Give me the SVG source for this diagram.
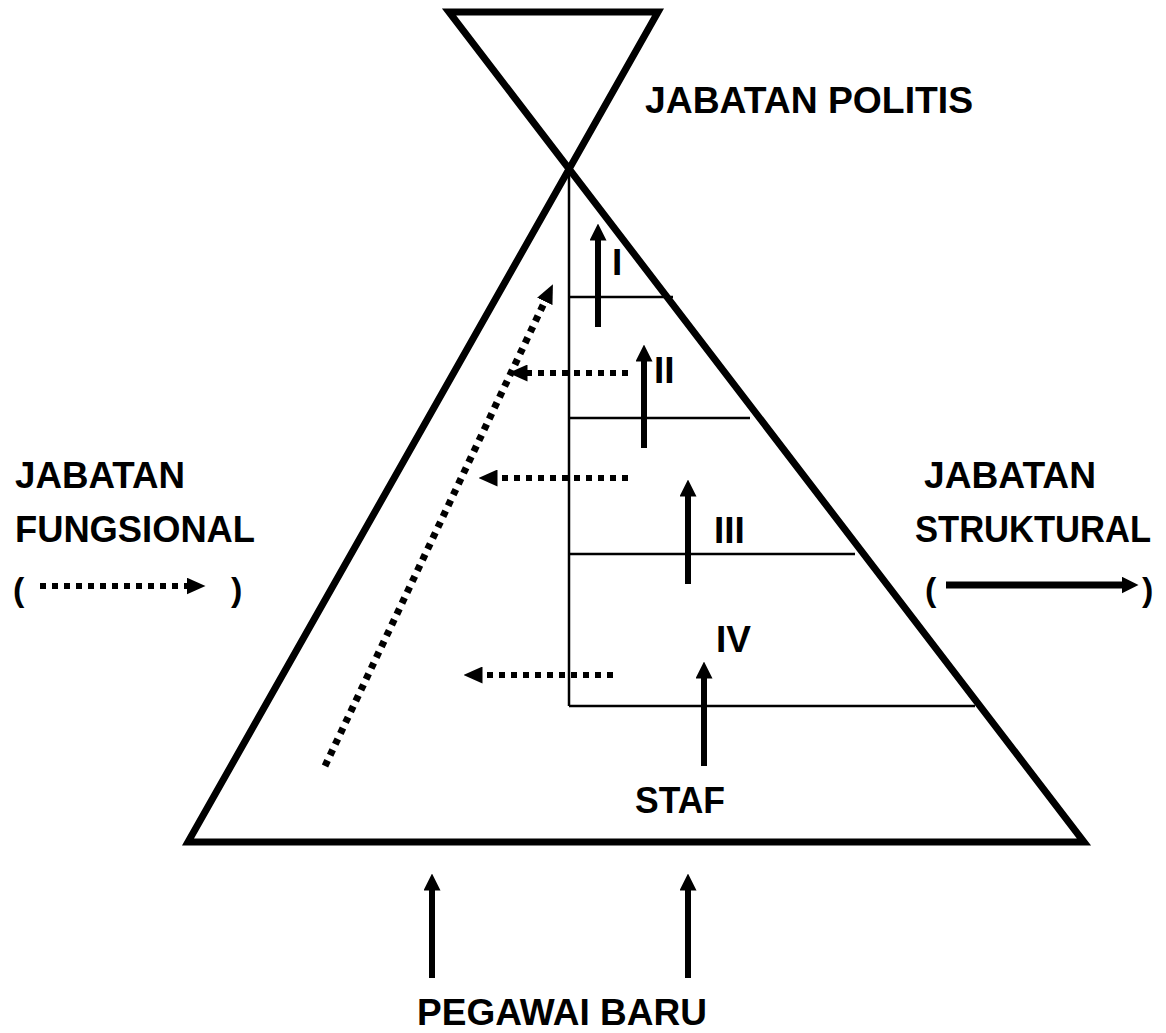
<svg xmlns="http://www.w3.org/2000/svg" width="1166" height="1033" viewBox="0 0 1166 1033">
<style>
text{font-family:"Liberation Sans",Arial,sans-serif;font-weight:bold;font-size:37px;fill:#000}
.paren{font-size:34px}
.thick{fill:none;stroke:#000;stroke-width:7;stroke-linejoin:miter}
.thin{fill:none;stroke:#000;stroke-width:2.5}
.solid{stroke:#000;stroke-width:6;fill:none}
.dot{stroke:#000;stroke-width:6;fill:none;stroke-dasharray:6 6}
.dot7{stroke:#000;stroke-width:7;fill:none;stroke-dasharray:6 6}
</style>
<defs>
<marker id="hs" markerUnits="userSpaceOnUse" viewBox="0 0 17 17" markerWidth="17" markerHeight="17" refX="0.5" refY="8.5" orient="auto"><path d="M0,0 L17,8.5 L0,17 Z" fill="#000"/></marker>
<marker id="hd" markerUnits="userSpaceOnUse" viewBox="0 0 19 17" markerWidth="19" markerHeight="17" refX="0.5" refY="8.5" orient="auto"><path d="M0,0 L19,8.5 L0,17 Z" fill="#000"/></marker>
</defs>
<g id="pyramid">
<path class="thick" d="M449,12 L658,12 L188,842 L1084,842 Z"/>
</g>
<g id="levels">
<path class="thin" d="M569,170 V706 M569,297 H673 M569,418 H750 M569,554 H855 M569,706 H975"/>
</g>
<g id="connectors">
<line class="solid" x1="598" y1="327" x2="598" y2="240" marker-end="url(#hs)"/>
<line class="solid" x1="644" y1="448" x2="644" y2="361" marker-end="url(#hs)"/>
<line class="solid" x1="688" y1="584" x2="688" y2="496" marker-end="url(#hs)"/>
<line class="solid" x1="704" y1="766" x2="704" y2="678" marker-end="url(#hs)"/>
<line class="solid" x1="432" y1="978" x2="432" y2="890" marker-end="url(#hs)"/>
<line class="solid" x1="688" y1="978" x2="688" y2="890" marker-end="url(#hs)"/>
<line class="dot" x1="628" y1="373" x2="527" y2="373" marker-end="url(#hd)"/>
<line class="dot" x1="628" y1="478" x2="497" y2="478" marker-end="url(#hd)"/>
<line class="dot" x1="613" y1="675" x2="482" y2="675" marker-end="url(#hd)"/>
<line class="dot7" x1="325" y1="766" x2="545" y2="301" marker-end="url(#hd)"/>
</g>
<g id="legend-fungsional">
<text x="15" y="488" textLength="170" lengthAdjust="spacingAndGlyphs">JABATAN</text>
<text x="15" y="542" textLength="240" lengthAdjust="spacingAndGlyphs">FUNGSIONAL</text>
<text class="paren" x="13" y="601">(</text>
<line class="dot" x1="40" y1="586" x2="187" y2="586" marker-end="url(#hd)"/>
<text class="paren" x="231" y="601">)</text>
</g>
<g id="legend-struktural">
<text x="924" y="488" textLength="172" lengthAdjust="spacingAndGlyphs">JABATAN</text>
<text x="915" y="542" textLength="236" lengthAdjust="spacingAndGlyphs">STRUKTURAL</text>
<text class="paren" x="925" y="601">(</text>
<line x1="946" y1="585" x2="1122" y2="585" stroke="#000" stroke-width="7" marker-end="url(#hs)"/>
<text class="paren" x="1142" y="601">)</text>
</g>
<g id="labels">
<text x="645" y="113" textLength="328" lengthAdjust="spacingAndGlyphs">JABATAN POLITIS</text>
<text x="612" y="275">I</text>
<text x="654" y="383">II</text>
<text x="714" y="543">III</text>
<text x="716" y="652">IV</text>
<text x="635" y="813" textLength="90" lengthAdjust="spacingAndGlyphs">STAF</text>
<text x="417" y="1025" textLength="290" lengthAdjust="spacingAndGlyphs">PEGAWAI BARU</text>
</g>
</svg>
